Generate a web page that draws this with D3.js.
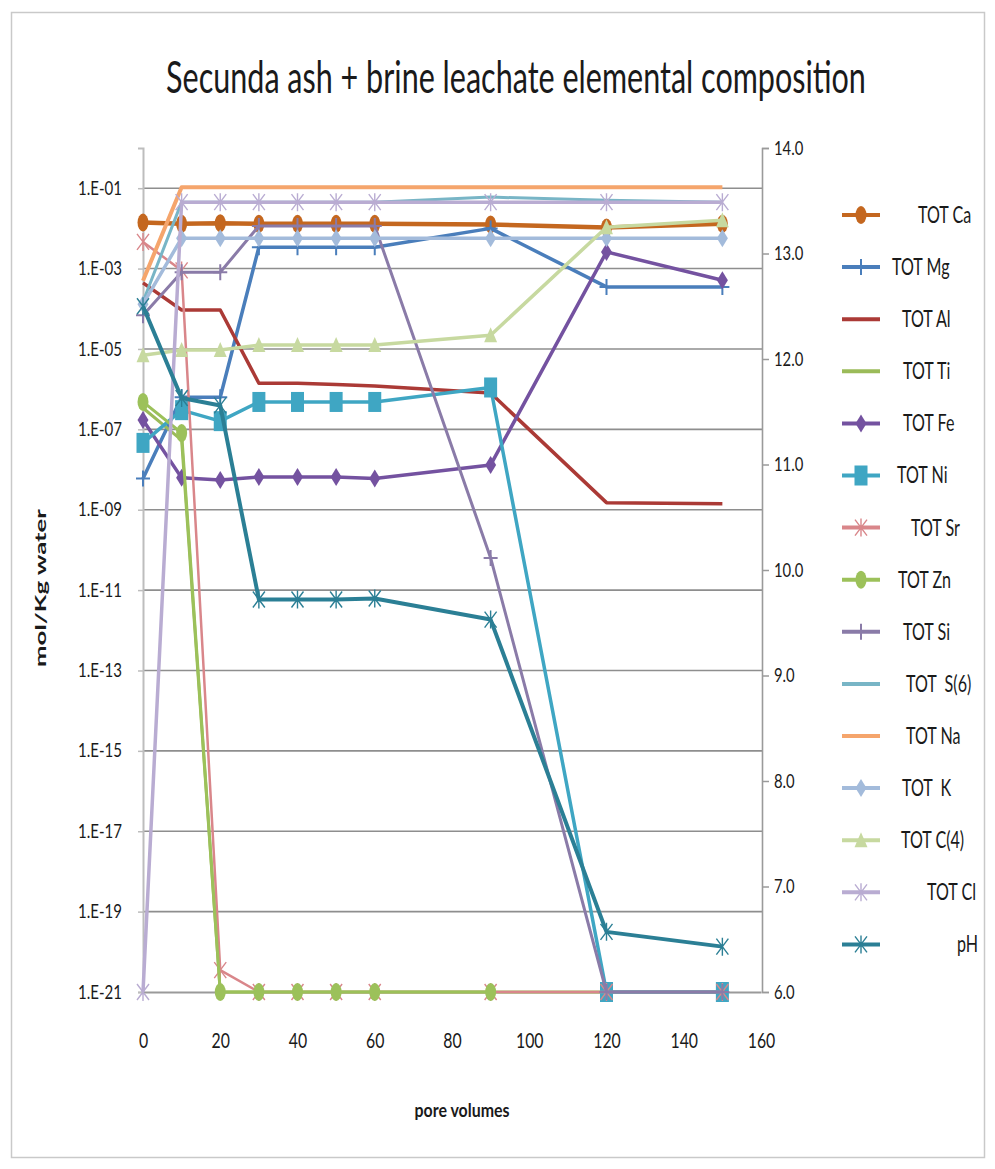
<!DOCTYPE html>
<html>
<head>
<meta charset="utf-8">
<script src="https://cdn.jsdelivr.net/npm/d3@7"></script>
<style>
  body { margin: 0; background: #fff; }
  svg { display: block; }
  text { font-family: Lato, "Open Sans", sans-serif; fill: #1a1a1a; }
</style>
</head>
<body>
<svg id="chart" width="995" height="1169"></svg>
<script>
// ---- data -------------------------------------------------------------
const poreVolumes = [0, 10, 20, 30, 40, 50, 60, 90, 120, 150];

const totCa  = [1.4e-2, 1.3e-2, 1.35e-2, 1.3e-2, 1.3e-2, 1.3e-2, 1.3e-2, 1.25e-2, 1.05e-2, 1.3e-2];
const totMg  = [6e-9, 6.3e-7, 6.3e-7, 3.4e-3, 3.4e-3, 3.4e-3, 3.4e-3, 1.0e-2, 3.5e-4, 3.5e-4];
const totAl  = [4.4e-4, 9.3e-5, 9.3e-5, 1.4e-6, 1.4e-6, 1.3e-6, 1.2e-6, 8e-7, 1.5e-9, 1.4e-9];
const totTi  = [3.4e-7, 5.4e-8, 1e-21, 1e-21, 1e-21, 1e-21, 1e-21, 1e-21, 1e-21, 1e-21];
const totFe  = [1.7e-7, 6.2e-9, 5.5e-9, 6.5e-9, 6.5e-9, 6.5e-9, 6e-9, 1.3e-8, 2.6e-3, 5.1e-4];
const totNi  = [4.6e-8, 3e-7, 1.6e-7, 4.8e-7, 4.8e-7, 4.8e-7, 4.8e-7, 1.1e-6, 1e-21, 1e-21];
const totSr  = [4.6e-3, 9e-4, 3.5e-21, 1e-21, 1e-21, 1e-21, 1e-21, 1e-21, 1e-21, 1e-21];
const totZn  = [4.8e-7, 8.1e-8, 1e-21, 1e-21, 1e-21, 1e-21, 1e-21, 1e-21, null, null];
const totSi  = [6.9e-5, 8.1e-4, 8.1e-4, 1.15e-2, 1.15e-2, 1.15e-2, 1.15e-2, 6.3e-11, 1e-21, 1e-21];
const totS6  = [1.5e-4, 4.5e-2, 4.5e-2, 4.5e-2, 4.5e-2, 4.5e-2, 4.5e-2, 6e-2, 5e-2, 4.5e-2];
const totNa  = [5e-4, 0.105, 0.105, 0.105, 0.105, 0.105, 0.105, 0.105, 0.105, 0.105];
const totK   = [1.3e-4, 5.7e-3, 5.7e-3, 5.7e-3, 5.7e-3, 5.7e-3, 5.7e-3, 5.7e-3, 5.7e-3, 5.7e-3];
const totC4  = [7e-6, 9.4e-6, 9.4e-6, 1.25e-5, 1.25e-5, 1.25e-5, 1.25e-5, 2.2e-5, 1.07e-2, 1.6e-2];
const totCl  = [1e-21, 4.5e-2, 4.5e-2, 4.5e-2, 4.5e-2, 4.5e-2, 4.5e-2, 4.5e-2, 4.5e-2, 4.5e-2];
const pH     = [12.5, 11.63, 11.56, 9.72, 9.72, 9.72, 9.73, 9.53, 6.57, 6.43];

const seriesNames = ["TOT Ca", "TOT Mg", "TOT Al", "TOT Ti", "TOT Fe", "TOT Ni", "TOT Sr",
  "TOT Zn", "TOT Si", "TOT  S(6)", "TOT Na", "TOT  K", "TOT C(4)", "TOT Cl", "pH"];

const leftTicks = [1e-1, 1e-3, 1e-5, 1e-7, 1e-9, 1e-11, 1e-13, 1e-15, 1e-17, 1e-19, 1e-21];
const leftTickLabels = ["1.E-01", "1.E-03", "1.E-05", "1.E-07", "1.E-09", "1.E-11",
  "1.E-13", "1.E-15", "1.E-17", "1.E-19", "1.E-21"];
const rightTicks = [6, 7, 8, 9, 10, 11, 12, 13, 14];
const xTicks = [0, 20, 40, 60, 80, 100, 120, 140, 160];

const titleText = "Secunda ash + brine leachate elemental composition";
const yTitle = "mol/Kg water";
const xTitle = "pore volumes";

// ---- styling ----------------------------------------------------------
const seriesStyle = [
  { color: "#c4671f", marker: "circle",   width: 4.5 },
  { color: "#4a7ebb", marker: "plus",     width: 3.5 },
  { color: "#ab3a36", marker: "none",     width: 3.5 },
  { color: "#9bbb59", marker: "none",     width: 3 },
  { color: "#7452a0", marker: "diamond",  width: 3.5 },
  { color: "#3fa6c3", marker: "square",   width: 3.5 },
  { color: "#d9868a", marker: "star",     width: 2.5 },
  { color: "#9cc15a", marker: "circle",   width: 3 },
  { color: "#8a7ba8", marker: "plus",     width: 3 },
  { color: "#78b5c6", marker: "none",     width: 3 },
  { color: "#f5a56c", marker: "none",     width: 4 },
  { color: "#a3bbdb", marker: "diamond",  width: 3.5 },
  { color: "#c7d9a0", marker: "triangle", width: 3.5 },
  { color: "#b9acd2", marker: "star",     width: 3.5 },
  { color: "#2b7f95", marker: "star",     width: 4 }
];
// legend label x start (labels carry their own leading space)
const legendLabelX = [918, 892, 902, 903, 903, 897, 911, 898, 903, 906, 906, 902, 901, 927, 957];

const seriesValues = [totCa, totMg, totAl, totTi, totFe, totNi, totSr, totZn, totSi, totS6,
  totNa, totK, totC4, totCl, pH];

const series = seriesNames.map((name, i) => ({
  name,
  values: seriesValues[i],
  axis: name === "pH" ? "right" : "left",
  ...seriesStyle[i]
}));

// ---- layout -----------------------------------------------------------
const plot = { left: 143, right: 762, top: 148, bottom: 992 };
const svg = d3.select("#chart");

const x = d3.scaleLinear().domain([0, 160]).range([plot.left, plot.right - 1]);
const yL = d3.scaleLog().domain([1e-21, 1]).range([plot.bottom, plot.top]);
const yR = d3.scaleLinear().domain([6, 14]).range([plot.bottom, plot.top]);

// narrow (or widen) the glyphs horizontally about each text's anchor point
function condense(sel, k) {
  sel.each(function () {
    const ax = +this.getAttribute("x") || 0;
    const prev = this.getAttribute("transform") || "";
    this.setAttribute("transform", `${prev} translate(${ax * (1 - k)},0) scale(${k},1)`);
  });
}
// scale so the text takes a given width
function condenseTo(sel, w) {
  sel.each(function () {
    const k = w / this.getComputedTextLength();
    d3.select(this).call(condense, k);
  });
}

// outer frame
svg.append("rect")
  .attr("x", 11.5).attr("y", 12.5).attr("width", 973).attr("height", 1145)
  .attr("fill", "none").attr("stroke", "#c9c9c9").attr("stroke-width", 1.5);

// title
svg.append("text")
  .attr("x", 516).attr("y", 93)
  .attr("text-anchor", "middle")
  .attr("font-size", 44)
  .text(titleText)
  .call(condenseTo, 700);

// gridlines from left axis
svg.append("g")
  .selectAll("line")
  .data(leftTicks.slice(0, -1))
  .join("line")
  .attr("x1", plot.left).attr("x2", plot.right)
  .attr("y1", d => yL(d)).attr("y2", d => yL(d))
  .attr("stroke", "#8e8e8e").attr("stroke-width", 1.6);

// left axis
const leftAxis = d3.axisLeft(yL)
  .tickValues(leftTicks)
  .tickFormat((d, i) => leftTickLabels[i])
  .tickSize(5).tickPadding(16);
const gL = svg.append("g").attr("transform", `translate(${plot.left},0)`).call(leftAxis);
gL.select(".domain").attr("stroke", "#bdbdbd").attr("stroke-width", 2);
gL.selectAll(".tick line").attr("stroke", "#bdbdbd").attr("stroke-width", 1.5);
gL.selectAll(".tick text")
  .attr("font-family", "Lato, sans-serif").attr("font-size", 19).attr("fill", "#1a1a1a")
  .call(condenseTo, 44);

// right axis (pH)
const rightAxis = d3.axisRight(yR)
  .tickValues(rightTicks)
  .tickFormat(d3.format(".1f"))
  .tickSize(7).tickPadding(5);
const gR = svg.append("g").attr("transform", `translate(${plot.right},0)`).call(rightAxis);
gR.select(".domain").attr("stroke", "#9a9a9a").attr("stroke-width", 1.6);
gR.selectAll(".tick line").attr("stroke", "#9a9a9a").attr("stroke-width", 1.5);
gR.selectAll(".tick text")
  .attr("font-family", "Lato, sans-serif").attr("font-size", 19).attr("fill", "#1a1a1a")
  .call(condense, 0.78);

// bottom axis
const bottomAxis = d3.axisBottom(x).tickValues(xTicks).tickSize(0).tickPadding(40);
const gB = svg.append("g").attr("transform", `translate(0,${plot.bottom})`).call(bottomAxis);
gB.select(".domain").attr("stroke", "#9a9a9a").attr("stroke-width", 2);
gB.selectAll(".tick text")
  .attr("font-family", "Lato, sans-serif").attr("font-size", 22).attr("fill", "#1a1a1a")
  .call(condense, 0.72);

// axis titles
svg.append("g")
  .attr("transform", "translate(46,588) rotate(-90)")
  .append("text")
  .attr("x", 0).attr("y", 0)
  .attr("text-anchor", "middle")
  .attr("font-family", "'DejaVu Sans', sans-serif")
  .attr("font-weight", "bold").attr("font-size", 16)
  .text(yTitle)
  .call(condenseTo, 158);

svg.append("text")
  .attr("x", 462).attr("y", 1117)
  .attr("text-anchor", "middle")
  .attr("font-weight", "bold").attr("font-size", 18)
  .text(xTitle)
  .call(condenseTo, 95);

// ---- markers ----------------------------------------------------------
function drawMarker(g, type, color) {
  switch (type) {
    case "circle":
      g.append("ellipse").attr("rx", 5.5).attr("ry", 9).attr("fill", color);
      break;
    case "diamond":
      g.append("path").attr("d", "M0,-9L5.5,0L0,9L-5.5,0Z").attr("fill", color);
      break;
    case "square":
      g.append("rect").attr("x", -6.5).attr("y", -10).attr("width", 13).attr("height", 20).attr("fill", color);
      break;
    case "triangle":
      g.append("path").attr("d", "M0,-8L6.5,7L-6.5,7Z").attr("fill", color);
      break;
    case "plus":
      g.append("path").attr("d", "M-7,0H7M0,-8V8").attr("stroke", color).attr("stroke-width", 2).attr("fill", "none");
      break;
    case "star":
      g.append("path").attr("d", "M-6,-8L6,8M-6,8L6,-8M0,-9V9").attr("stroke", color).attr("stroke-width", 1.4).attr("fill", "none");
      break;
  }
}

// ---- series -----------------------------------------------------------
const plotG = svg.append("g");
series.forEach(s => {
  const yScale = s.axis === "right" ? yR : yL;
  const pts = poreVolumes.map((pv, i) => ({ pv, v: s.values[i] })).filter(p => p.v != null);
  const line = d3.line().x(p => x(p.pv)).y(p => yScale(p.v));
  const g = plotG.append("g").attr("class", "series");
  g.append("path")
    .attr("d", line(pts))
    .attr("fill", "none")
    .attr("stroke", s.color)
    .attr("stroke-width", s.width)
    .attr("stroke-linejoin", "round");
  if (s.marker !== "none") {
    g.selectAll("g.mk").data(pts).join("g")
      .attr("class", "mk")
      .attr("transform", p => `translate(${x(p.pv)},${yScale(p.v)})`)
      .each(function () { drawMarker(d3.select(this), s.marker, s.color); });
  }
});

// ---- legend -----------------------------------------------------------
const legend = svg.append("g");
series.forEach((s, i) => {
  const cy = 215 + i * 52.1;
  const item = legend.append("g");
  item.append("line")
    .attr("x1", 842).attr("x2", 880).attr("y1", cy).attr("y2", cy)
    .attr("stroke", s.color).attr("stroke-width", 4);
  if (s.marker !== "none") {
    const mk = item.append("g").attr("transform", `translate(861,${cy})`);
    drawMarker(mk, s.marker, s.color);
  }
  item.append("text")
    .attr("x", legendLabelX[i]).attr("y", cy + 8)
    .attr("font-size", 23)
    .style("white-space", "pre")
    .text(s.name)
    .call(condense, 0.7);
});
</script>
</body>
</html>
